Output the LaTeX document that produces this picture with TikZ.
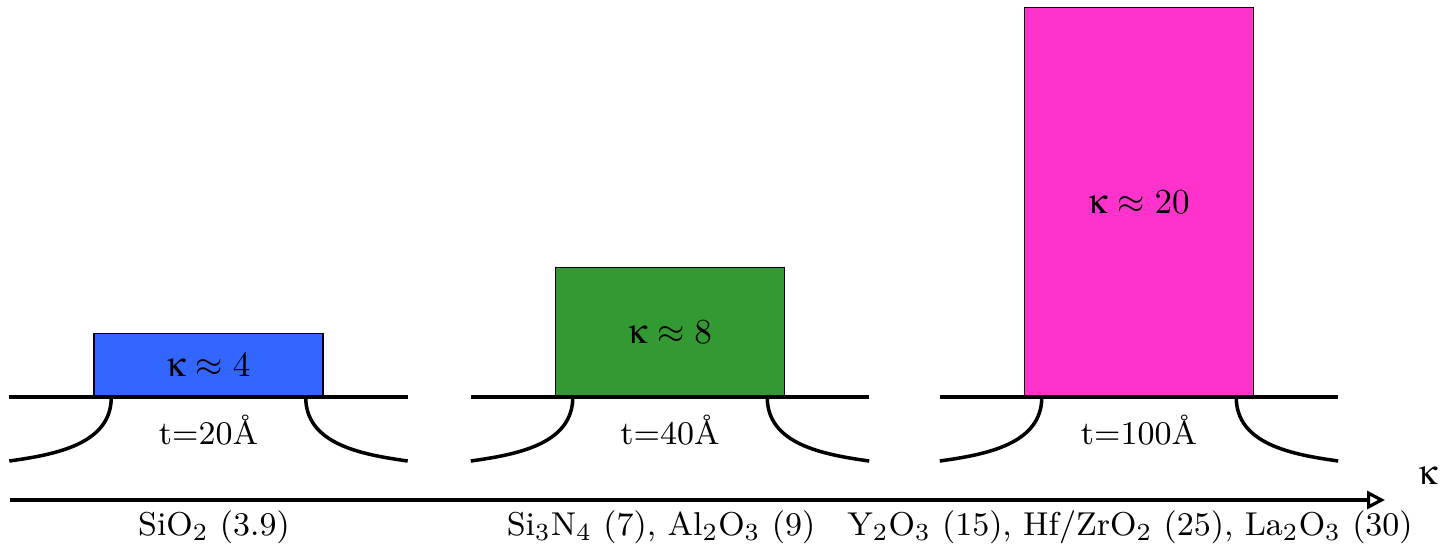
\documentclass[tikz,border=0pt]{standalone}
\usepackage{amsmath}
\usepackage[Symbol]{upgreek}
\usetikzlibrary{arrows.meta, positioning, calc}
\definecolor{kblue}{RGB}{51,102,255}
\definecolor{kgreen}{RGB}{51,153,51}
\definecolor{kpink}{RGB}{255,51,204}
\newcommand{\kap}{\upkappa}

\begin{document}
\begin{tikzpicture}[
	kbox/.style={rectangle, draw, anchor=south, minimum width=2.29cm, inner sep=0pt, align=center},
	surface/.style={line width=.9pt},
	well/.style={line width=1pt},
	axis/.style={-{Triangle[open, length=1.8mm, width=1.8mm]}, line width=.9pt},
	label/.style={font=\fontsize{9.4}{11}\selectfont},
	every node/.style={align=center}
	]
	\useasboundingbox (0,0) rectangle (14.43,5.53);
	
	% dielectric layers
	\node[kbox, fill=kblue, minimum height=0.63cm] (lowk) at (2.085,1.56) {$\kap\approx 4$};
	\node[kbox, fill=kgreen, minimum height=1.29cm] (midk) at (6.70,1.56) {$\kap\approx 8$};
	\node[kbox, fill=kpink, minimum height=3.89cm] (highk) at (11.39,1.56) {$\kap\approx 20$};
	
	% substrate and wells
	\foreach \b in {lowk, midk, highk} {
		\draw[surface] ($(\b.south west)+(-0.84,0)$) -- ($(\b.south east)+(0.84,0)$);
		\draw[well] ($(\b.south west)+(0.18,0)$) to[out=-90, in=8] ($(\b.south west)+(-0.84,-0.64)$);
		\draw[well] ($(\b.south east)+(-0.18,0)$) to[out=-90, in=172] ($(\b.south east)+(0.84,-0.64)$);
	}
	
	\node[label] (lowt) at ($(lowk.south)+(0,-0.33)$) {t=20\AA};
	\node[label] (midt) at ($(midk.south)+(0,-0.33)$) {t=40\AA};
	\node[label] (hight) at ($(highk.south)+(0,-0.33)$) {t=100\AA};
	
	% kappa axis
	\coordinate (axstart) at (0.10,0.53);
	\coordinate (axend) at (13.85,0.53);
	\draw[axis] (axstart) -- (axend);
	\node (kaxis) at (14.28,0.77) {$\kap$};
	
	\node[label] (lowlab) at (2.14,0.26) {SiO$_2$ (3.9)};
	\node[label] (midlab) at (6.61,0.26) {Si$_3$N$_4$ (7), Al$_2$O$_3$ (9)};
	\node[label] (highlab) at (11.30,0.26) {Y$_2$O$_3$ (15), Hf/ZrO$_2$ (25), La$_2$O$_3$ (30)};
\end{tikzpicture}
\end{document}
